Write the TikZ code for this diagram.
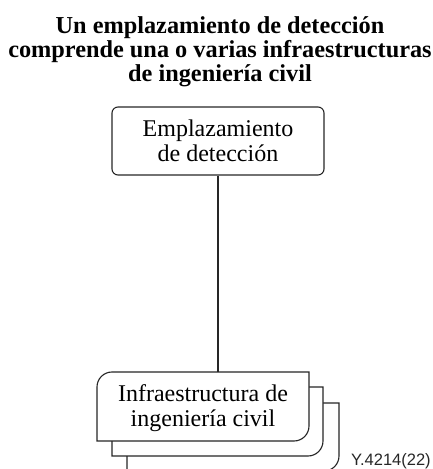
\documentclass[tikz,border=0pt]{standalone}
\usepackage{fontspec}
\setmainfont{Liberation Serif}
\newfontfamily\labelfont{Liberation Sans}
\newcommand\stackshape[4]{% left, bottom, right, top
  (#1,#2) -- (#1,#4-15) arc[start angle=180,end angle=90,radius=15] -- (#3,#4)
  -- (#3,#2+15) arc[start angle=0,end angle=-90,radius=15] -- cycle}
\begin{document}
\begin{tikzpicture}[x=1pt,y=1pt,
  line/.style={draw=black!85, line width=1.1pt},
  txt/.style={align=center, inner sep=0pt, font=\fontsize{24}{25}\selectfont},
  stackbox/.style={line, fill=white, line join=miter}]
\useasboundingbox (0,0) rectangle (433,469);
\clip (0,0) rectangle (433,469);
% title
\node[inner sep=0pt, align=center, font=\bfseries\fontsize{24.3}{24}\selectfont] (title) at (220,417)
  {Un emplazamiento de detección\\comprende una o varias infraestructuras\\de ingeniería civil};
% top box
\node[line, rounded corners=6pt, minimum width=212pt, minimum height=68pt, txt] (site) at (218,328)
  {Emplazamiento\\de detección};
% stacked boxes (back to front)
\draw[stackbox] \stackshape{127}{-2}{339}{66};
\draw[stackbox] \stackshape{112}{13}{323}{82};
\draw[stackbox] \stackshape{97}{28}{309}{97};
\node[txt, minimum width=212pt, minimum height=69pt] (infra) at (203,60.5)
  {Infraestructura de\\ingeniería civil};
\coordinate (infratop) at (218,97);
% connector
\draw[line] (site.south) -- (infratop);
% figure number
\node[anchor=base west, inner sep=0pt, font=\labelfont\fontsize{16.5}{16.5}\selectfont, text=black!85] (fig) at (351,4) {Y.4214(22)};
\end{tikzpicture}
\end{document}
